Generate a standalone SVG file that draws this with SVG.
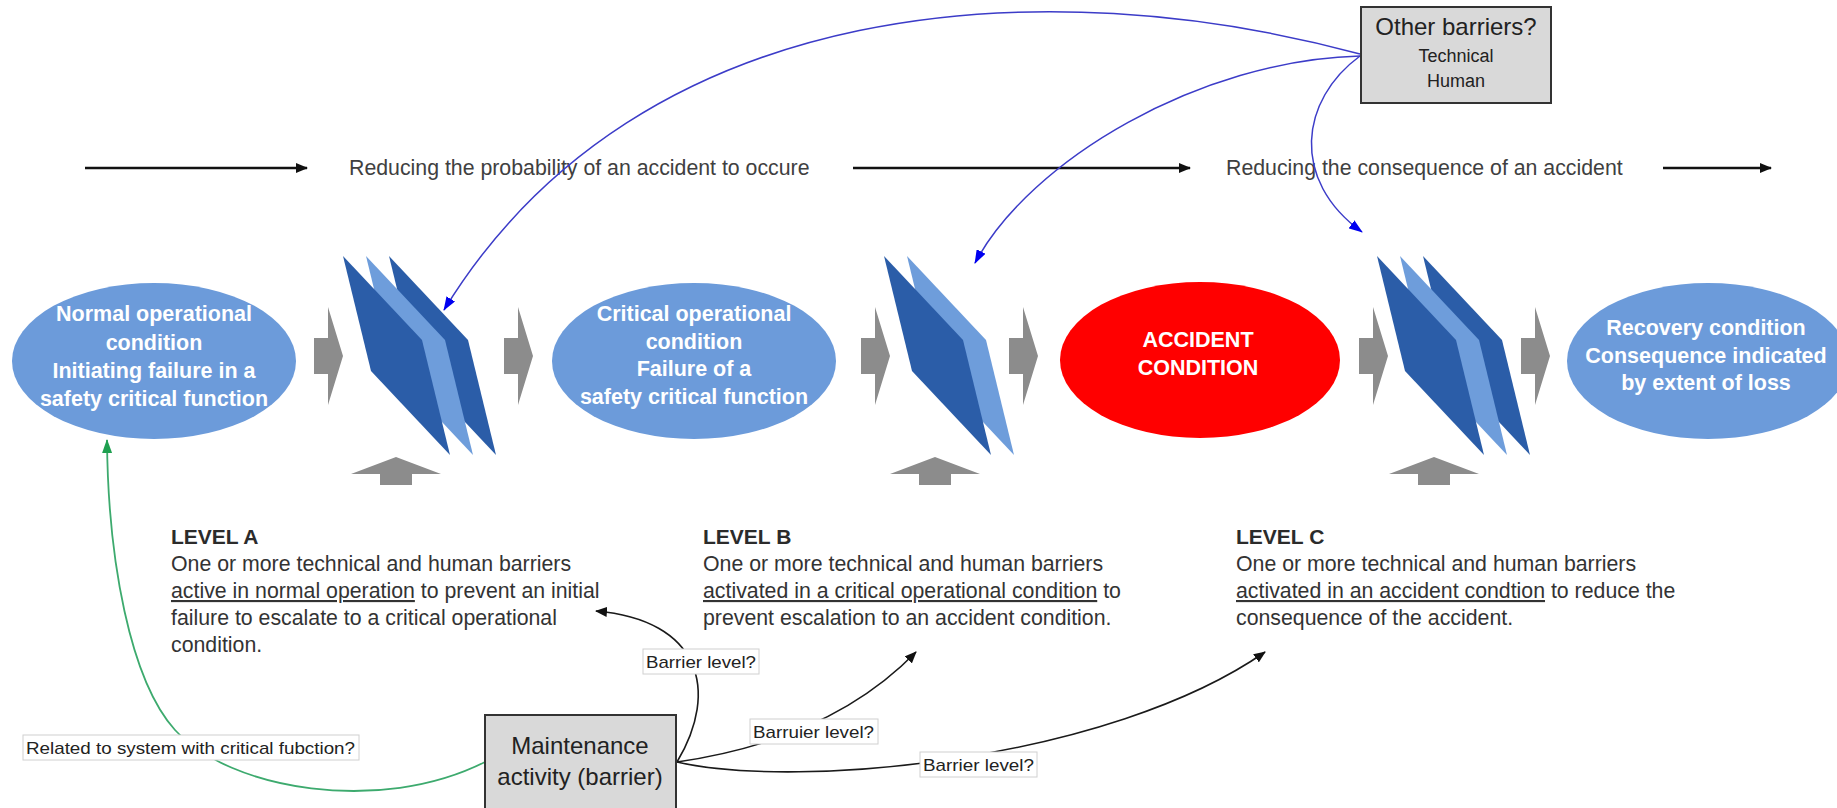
<svg xmlns="http://www.w3.org/2000/svg" width="1837" height="808" viewBox="0 0 1837 808">
  <style>
    text { font-family: "Liberation Sans", Arial, sans-serif; }
    .state { fill: #6C9BDA; }
    .accident { fill: #FF0000; }
    .state-txt { fill: #FFFFFF; font-size: 21.5px; font-weight: bold; text-anchor: middle; }
    .panel-dark { fill: #2B5DA8; }
    .panel-light { fill: #6E9DDB; }
    .flow { fill: #8C8C8C; }
    .box { fill: #D9D9D9; stroke: #333333; stroke-width: 2; }
    .box-txt { fill: #222222; text-anchor: middle; }
    .phase { fill: #404040; font-size: 21.3px; }
    .phase-line { stroke: #111111; stroke-width: 2.5; fill: none; }
    .lvl-head { fill: #2B2B2B; font-size: 21px; font-weight: bold; }
    .lvl-txt { fill: #333333; font-size: 21.3px; }
    .lbl-bg { fill: #FFFFFF; stroke: #D0D0D0; stroke-width: 1; }
    .lbl-txt { fill: #222222; font-size: 17px; }
    .link-blue { stroke: #3C3CC8; stroke-width: 1.5; fill: none; }
    .link-black { stroke: #1A1A1A; stroke-width: 1.6; fill: none; }
    .link-green { stroke: #3DAA6E; stroke-width: 1.8; fill: none; }
  </style>
  <defs>
    <marker id="head-black" viewBox="0 0 12 10" refX="11" refY="5" markerWidth="12" markerHeight="10" markerUnits="userSpaceOnUse" orient="auto">
      <path d="M0,0 L12,5 L0,10 z" fill="#111111"/>
    </marker>
    <marker id="head-blue" viewBox="0 0 14 10" refX="13" refY="5" markerWidth="14" markerHeight="10" markerUnits="userSpaceOnUse" orient="auto">
      <path d="M0,0 L14,5 L0,10 z" fill="#0000F0"/>
    </marker>
    <marker id="head-green" viewBox="0 0 14 10" refX="13" refY="5" markerWidth="14" markerHeight="10" markerUnits="userSpaceOnUse" orient="auto">
      <path d="M0,0 L14,5 L0,10 z" fill="#1FA050"/>
    </marker>
    <!-- one barrier panel, anchored at its top corner -->
    <path id="panel" d="M0,0 L79,84 L107,199 L28,115 z"/>
    <!-- grey flow arrow pointing right, anchored at its left end -->
    <path id="flow-right" d="M0,338 L14,338 L14,307 L29,356 L14,405 L14,374 L0,374 z"/>
    <!-- grey flow arrow pointing up, anchored at its centre -->
    <path id="flow-up" d="M-16,485 L-16,474 L-45,474 L0,457 L45,474 L16,474 L16,485 z"/>
  </defs>

  <!-- phase arrows along the top -->
  <g id="phase-axis">
    <line class="phase-line" x1="85" y1="168" x2="307" y2="168" marker-end="url(#head-black)"/>
    <text class="phase" x="349" y="175">Reducing the probability of an accident to occure</text>
    <line class="phase-line" x1="853" y1="168" x2="1190" y2="168" marker-end="url(#head-black)"/>
    <text class="phase" x="1226" y="175">Reducing the consequence of an accident</text>
    <line class="phase-line" x1="1663" y1="168" x2="1771" y2="168" marker-end="url(#head-black)"/>
  </g>

  <!-- grey flow arrows -->
  <g id="flow-arrows">
    <use href="#flow-right" class="flow" x="314"/>
    <use href="#flow-right" class="flow" x="504"/>
    <use href="#flow-right" class="flow" x="861"/>
    <use href="#flow-right" class="flow" x="1009"/>
    <use href="#flow-right" class="flow" x="1359"/>
    <use href="#flow-right" class="flow" x="1521"/>
    <use href="#flow-up" class="flow" x="396"/>
    <use href="#flow-up" class="flow" x="935"/>
    <use href="#flow-up" class="flow" x="1434"/>
  </g>

  <!-- condition states -->
  <g id="state-normal">
    <ellipse class="state" cx="154" cy="361" rx="142" ry="78"/>
    <text class="state-txt" x="154" y="321">Normal operational</text>
    <text class="state-txt" x="154" y="350">condition</text>
    <text class="state-txt" x="154" y="378">Initiating failure in a</text>
    <text class="state-txt" x="154" y="406">safety critical function</text>
  </g>
  <g id="state-critical">
    <ellipse class="state" cx="694" cy="361" rx="142" ry="78"/>
    <text class="state-txt" x="694" y="321">Critical operational</text>
    <text class="state-txt" x="694" y="349">condition</text>
    <text class="state-txt" x="694" y="376">Failure of a</text>
    <text class="state-txt" x="694" y="404">safety critical function</text>
  </g>
  <g id="state-accident">
    <ellipse class="accident" cx="1200" cy="360" rx="140" ry="78"/>
    <text class="state-txt" x="1198" y="347">ACCIDENT</text>
    <text class="state-txt" x="1198" y="375">CONDITION</text>
  </g>
  <g id="state-recovery">
    <ellipse class="state" cx="1708" cy="361" rx="141" ry="78"/>
    <text class="state-txt" x="1706" y="335">Recovery condition</text>
    <text class="state-txt" x="1706" y="363">Consequence indicated</text>
    <text class="state-txt" x="1706" y="390">by extent of loss</text>
  </g>

  <!-- barrier stacks -->
  <g id="barrier-a">
    <use href="#panel" class="panel-dark" x="389" y="256"/>
    <use href="#panel" class="panel-light" x="366" y="256"/>
    <use href="#panel" class="panel-dark" x="343" y="256"/>
  </g>
  <g id="barrier-b">
    <use href="#panel" class="panel-light" x="907" y="256"/>
    <use href="#panel" class="panel-dark" x="884" y="256"/>
  </g>
  <g id="barrier-c">
    <use href="#panel" class="panel-dark" x="1423" y="256"/>
    <use href="#panel" class="panel-light" x="1400" y="256"/>
    <use href="#panel" class="panel-dark" x="1377" y="256"/>
  </g>

  <!-- barrier level descriptions -->
  <g id="level-a">
    <text class="lvl-head" x="171" y="544">LEVEL A</text>
    <text class="lvl-txt" x="171" y="571">One or more technical and human barriers</text>
    <text class="lvl-txt" x="171" y="598"><tspan text-decoration="underline">active in normal operation</tspan> to prevent an initial</text>
    <text class="lvl-txt" x="171" y="625">failure to escalate to a critical operational</text>
    <text class="lvl-txt" x="171" y="652">condition.</text>
  </g>
  <g id="level-b">
    <text class="lvl-head" x="703" y="544">LEVEL B</text>
    <text class="lvl-txt" x="703" y="571">One or more technical and human barriers</text>
    <text class="lvl-txt" x="703" y="598"><tspan text-decoration="underline">activated in a critical operational condition</tspan> to</text>
    <text class="lvl-txt" x="703" y="625">prevent escalation to an accident condition.</text>
  </g>
  <g id="level-c">
    <text class="lvl-head" x="1236" y="544">LEVEL C</text>
    <text class="lvl-txt" x="1236" y="571">One or more technical and human barriers</text>
    <text class="lvl-txt" x="1236" y="598"><tspan text-decoration="underline">activated in an accident condtion</tspan> to reduce the</text>
    <text class="lvl-txt" x="1236" y="625">consequence of the accident.</text>
  </g>

  <!-- connectors -->
  <g id="connectors">
    <path class="link-blue" d="M1360,54 C1050,-30 640,-10 444,310" marker-end="url(#head-blue)"/>
    <path class="link-blue" d="M1360,56 C1200,60 1030,160 975,263" marker-end="url(#head-blue)"/>
    <path class="link-blue" d="M1360,56 C1300,100 1290,180 1362,232" marker-end="url(#head-blue)"/>
    <path class="link-black" d="M677,762 C720,690 700,620 596,611" marker-end="url(#head-black)"/>
    <path class="link-black" d="M677,762 C760,750 850,720 916,652" marker-end="url(#head-black)"/>
    <path class="link-black" d="M677,762 C800,790 1110,760 1265,652" marker-end="url(#head-black)"/>
    <path class="link-green" d="M485,762 C380,815 230,790 175,730 C130,680 108,560 107,440" marker-end="url(#head-green)"/>
  </g>

  <!-- connector labels -->
  <g id="connector-labels">
    <rect class="lbl-bg" x="643" y="649" width="116" height="25"/>
    <text class="lbl-txt" x="646" y="668" textLength="110" lengthAdjust="spacingAndGlyphs">Barrier level?</text>
    <rect class="lbl-bg" x="750" y="719" width="128" height="25"/>
    <text class="lbl-txt" x="753" y="738" textLength="121" lengthAdjust="spacingAndGlyphs">Barruier level?</text>
    <rect class="lbl-bg" x="920" y="752" width="117" height="25"/>
    <text class="lbl-txt" x="923" y="771" textLength="111" lengthAdjust="spacingAndGlyphs">Barrier level?</text>
    <rect class="lbl-bg" x="23" y="735" width="336" height="25"/>
    <text class="lbl-txt" x="26" y="754" textLength="329" lengthAdjust="spacingAndGlyphs">Related to system with critical fubction?</text>
  </g>

  <!-- source boxes -->
  <g id="other-barriers">
    <rect class="box" x="1361" y="7" width="190" height="96"/>
    <text class="box-txt" x="1456" y="35" font-size="24">Other barriers?</text>
    <text class="box-txt" x="1456" y="62" font-size="18">Technical</text>
    <text class="box-txt" x="1456" y="87" font-size="18">Human</text>
  </g>
  <g id="maintenance">
    <rect class="box" x="485" y="715" width="191" height="100"/>
    <text class="box-txt" x="580" y="754" font-size="24">Maintenance</text>
    <text class="box-txt" x="580" y="785" font-size="24">activity (barrier)</text>
  </g>
</svg>
